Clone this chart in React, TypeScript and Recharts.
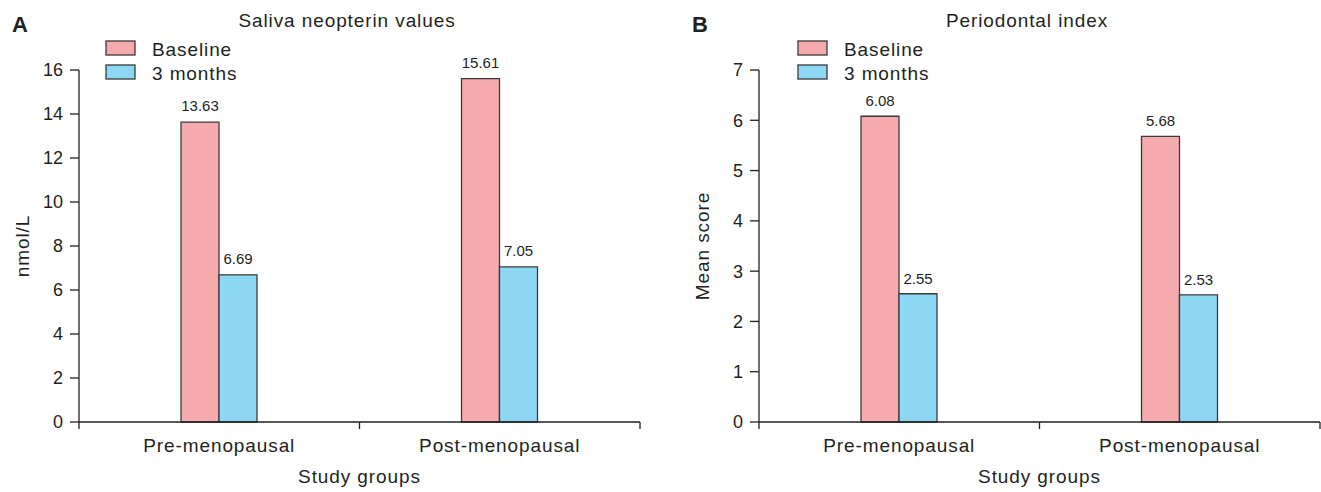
import React from 'react';
import { BarChart, Bar, XAxis, YAxis, LabelList, Legend } from 'recharts';

const categories = ['Pre-menopausal', 'Post-menopausal'];
const seriesNames = ['Baseline', '3 months'];
const neopterinBaseline = [13.63, 15.61];
const neopterin3Months = [6.69, 7.05];
const periodontalBaseline = [6.08, 5.68];
const periodontal3Months = [2.55, 2.53];
const neopterinTicks = [0, 2, 4, 6, 8, 10, 12, 14, 16];
const periodontalTicks = [0, 1, 2, 3, 4, 5, 6, 7];

const PINK = '#F5AAAD';
const BLUE = '#8DD8F5';
const INK = '#231F20';
const EDGE = '#3A3A3A';
const FONT = '"Liberation Sans", Arial, Helvetica, sans-serif';

const H = 492;
const Y_AXIS_W = 79;
const TOP = 70;
const X_AXIS_H = 70;

interface PanelProps {
  left: number;
  width: number;
  rightMargin: number;
  letter: string;
  title: string;
  yLabel: string;
  ticks: number[];
  baseline: number[];
  months: number[];
  legendLeft: number;
  labelOffset: number;
}

const Panel: React.FC<PanelProps> = (p) => {
  const data = categories.map((c, i) => ({ name: c, baseline: p.baseline[i], months: p.months[i] }));
  const plotW = p.width - Y_AXIS_W - p.rightMargin;
  const half = plotW / categories.length / 2;

  const XTick = (props: any) => {
    const { x, y, payload, index } = props;
    return (
      <g>
        <line x1={x - half} y1={y} x2={x - half} y2={y + 7} stroke={INK} strokeWidth={1.3} />
        {index === categories.length - 1 && (
          <line x1={x + half} y1={y} x2={x + half} y2={y + 7} stroke={INK} strokeWidth={1.3} />
        )}
        <text x={x} y={y + 30} textAnchor="middle" fontSize={19} letterSpacing={0.9} fill={INK}>
          {payload.value}
        </text>
      </g>
    );
  };

  const YTitle = (props: any) => {
    const { viewBox } = props;
    const cx = 22;
    const cy = viewBox.y + viewBox.height / 2;
    return (
      <text
        x={cx}
        y={cy}
        transform={`rotate(-90, ${cx}, ${cy})`}
        textAnchor="middle"
        dominantBaseline="central"
        fontSize={19}
        letterSpacing={0.9}
        fill={INK}
      >
        {p.yLabel}
      </text>
    );
  };

  const renderLegend = (props: any) => {
    const items = [...(props.payload || [])].sort(
      (a: any, b: any) => seriesNames.indexOf(a.value) - seriesNames.indexOf(b.value)
    );
    return (
      <svg width={150} height={50} style={{ display: 'block' }}>
        {items.map((it: any, i: number) => (
          <g key={it.value}>
            <rect x={1} y={5 + i * 24} width={29} height={14} fill={it.color} stroke={EDGE} strokeWidth={1.3} />
            <text x={47} y={20 + i * 24} fontSize={19} letterSpacing={0.9} fill={INK}>
              {it.value}
            </text>
          </g>
        ))}
      </svg>
    );
  };

  return (
    <div style={{ position: 'absolute', left: p.left, top: 0, width: p.width, height: H }}>
      <BarChart
        width={p.width}
        height={H}
        data={data}
        margin={{ top: TOP, right: p.rightMargin, bottom: 0, left: 0 }}
        barGap={0}
        barSize={38}
      >
        <XAxis
          dataKey="name"
          height={X_AXIS_H}
          tickSize={0}
          tickMargin={0}
          tickLine={false}
          axisLine={{ stroke: INK, strokeWidth: 1.3 }}
          tick={XTick}
          interval={0}
          label={{ value: 'Study groups', position: 'insideBottom', offset: 9, fontSize: 19, letterSpacing: 0.9, fill: INK }}
        />
        <YAxis
          width={Y_AXIS_W}
          domain={[p.ticks[0], p.ticks[p.ticks.length - 1]]}
          ticks={p.ticks}
          interval={0}
          tickSize={9}
          tickMargin={7}
          tick={{ fontSize: 18, fill: INK }}
          tickLine={{ stroke: INK, strokeWidth: 1.3 }}
          axisLine={{ stroke: INK, strokeWidth: 1.3 }}
          label={<YTitle />}
        />
        <Legend
          layout="horizontal"
          verticalAlign="middle"
          align="center"
          content={renderLegend}
          wrapperStyle={{ position: 'absolute', left: p.legendLeft, top: 36, width: 150, height: 50 }}
        />
        <Bar dataKey="baseline" name={seriesNames[0]} fill={PINK} stroke={EDGE} strokeWidth={1.3} isAnimationActive={false}>
          <LabelList dataKey="baseline" position="top" offset={p.labelOffset} fontSize={15} fill={INK} />
        </Bar>
        <Bar dataKey="months" name={seriesNames[1]} fill={BLUE} stroke={EDGE} strokeWidth={1.3} isAnimationActive={false}>
          <LabelList dataKey="months" position="top" offset={p.labelOffset} fontSize={15} fill={INK} />
        </Bar>
      </BarChart>
      <svg
        width={p.width}
        height={40}
        style={{ position: 'absolute', left: 0, top: 0, pointerEvents: 'none' }}
      >
        <text x={12} y={32} fontSize={22} fontWeight="bold" fill={INK}>
          {p.letter}
        </text>
        <text x={347} y={27} textAnchor="middle" fontSize={19} letterSpacing={0.9} fill={INK}>
          {p.title}
        </text>
      </svg>
    </div>
  );
};

export default function App() {
  return (
    <div
      style={{
        position: 'absolute',
        left: 0,
        top: 0,
        width: 1321,
        height: H,
        background: '#fff',
        fontFamily: FONT,
        overflow: 'hidden',
      }}
    >
      <Panel
        left={0}
        width={660}
        rightMargin={20}
        letter="A"
        title="Saliva neopterin values"
        yLabel="nmol/L"
        ticks={neopterinTicks}
        baseline={neopterinBaseline}
        months={neopterin3Months}
        legendLeft={105}
        labelOffset={11}
      />
      <Panel
        left={680}
        width={641}
        rightMargin={1}
        letter="B"
        title="Periodontal index"
        yLabel="Mean score"
        ticks={periodontalTicks}
        baseline={periodontalBaseline}
        months={periodontal3Months}
        legendLeft={117}
        labelOffset={10}
      />
    </div>
  );
}
